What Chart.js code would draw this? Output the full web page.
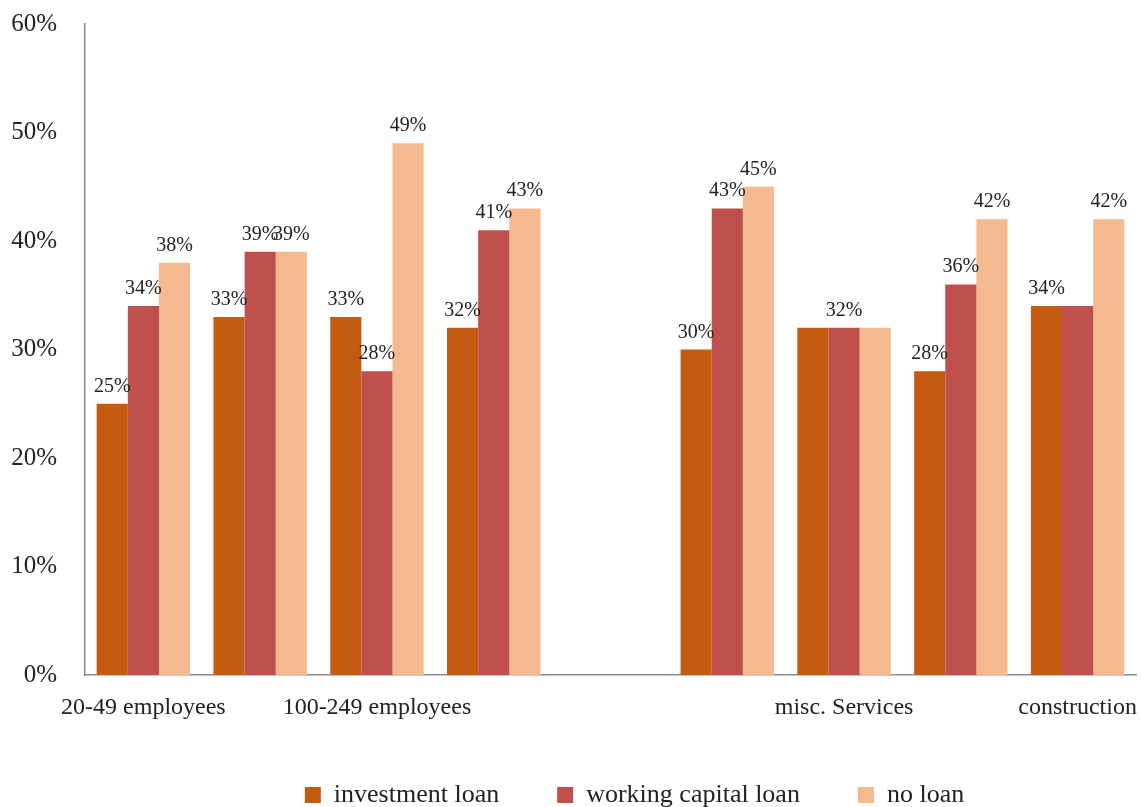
<!DOCTYPE html>
<html>
<head>
<meta charset="utf-8">
<script src="https://cdn.jsdelivr.net/npm/chart.js@4/dist/chart.umd.min.js"></script>
<style>
  html, body { margin: 0; padding: 0; background: #ffffff; }
  #wrap { width: 1141px; height: 807px; }
</style>
</head>
<body>
<div id="wrap"><canvas id="c" width="1141" height="807"></canvas></div>
<script>
// ---- data ----
const categories = ["20-49 employees", "50-99 employees", "100-249 employees", "250+ employees", "",
                    "manufacturing", "misc. Services", "trade", "construction"];
const seriesNames = ["investment loan", "working capital loan", "no loan"];
const investmentLoan = [25, 33, 33, 32, null, 30, 32, 28, 34];
const workingCapitalLoan = [34, 39, 28, 41, null, 43, 32, 36, 34];
const noLoan = [38, 39, 49, 43, null, 45, 32, 42, 42];
// data labels as shown in the picture (null = not shown)
const investmentLabels = ["25%", "33%", "33%", "32%", null, "30%", null, "28%", "34%"];
const workingCapitalLabels = ["34%", "39%", "28%", "41%", null, "43%", "32%", "36%", null];
const noLoanLabels = ["38%", "39%", "49%", "43%", null, "45%", null, "42%", "42%"];
const yTicks = [0, 10, 20, 30, 40, 50, 60];

const FONT = "'Liberation Serif', 'DejaVu Serif', serif";
const colors = ["#C55A11", "#C0504D", "#F4B98F"];
const labelSets = [investmentLabels, workingCapitalLabels, noLoanLabels];

const valueLabels = {
  id: 'valueLabels',
  afterDatasetsDraw(chart) {
    const ctx = chart.ctx;
    ctx.save();
    ctx.font = "20px " + FONT;
    ctx.fillStyle = "#222222";
    ctx.textAlign = "center";
    ctx.textBaseline = "alphabetic";
    chart.data.datasets.forEach((ds, di) => {
      const meta = chart.getDatasetMeta(di);
      meta.data.forEach((el, i) => {
        const t = labelSets[di][i];
        if (t == null || ds.data[i] == null) return;
        ctx.fillText(t, el.x, el.y - 12);
      });
    });
    ctx.restore();
  }
};

// nudge the legend block slightly right, as in the reference
const legendShift = {
  id: 'legendShift',
  afterLayout(chart) {
    if (chart.legend) { chart.legend.left += 24; chart.legend.right += 24; }
  }
};

new Chart(document.getElementById('c'), {
  type: 'bar',
  data: {
    labels: categories,
    datasets: [
      { label: seriesNames[0], data: investmentLoan, backgroundColor: colors[0] },
      { label: seriesNames[1], data: workingCapitalLoan, backgroundColor: colors[1] },
      { label: seriesNames[2], data: noLoan, backgroundColor: colors[2] }
    ]
  },
  options: {
    responsive: false,
    animation: false,
    devicePixelRatio: 1,
    datasets: { bar: { categoryPercentage: 0.8, barPercentage: 1.0 } },
    layout: { padding: { top: 0, right: 5, left: 0, bottom: 0 } },
    plugins: {
      legend: {
        position: 'bottom',
        fullSize: false,
        maxHeight: 83,
        labels: {
          font: { family: FONT, size: 26 },
          color: '#222222',
          boxWidth: 16,
          boxHeight: 16,
          padding: 58
        }
      },
      tooltip: { enabled: false }
    },
    scales: {
      x: {
        grid: { display: false, drawTicks: false },
        border: { display: true, color: '#8c8c8c', width: 1.5 },
        ticks: {
          autoSkip: false,
          maxRotation: 0,
          padding: 18,
          color: '#222222',
          font: { family: FONT, size: 24 },
          callback: function(v, i) { return i % 2 === 0 ? categories[i] : ''; }
        },
        afterFit(scale) { scale.height = 49; scale.paddingLeft = 0; scale.paddingRight = 0; }
      },
      y: {
        min: yTicks[0],
        max: yTicks[yTicks.length - 1],
        grid: { display: false, drawTicks: false },
        border: { display: true, color: '#8c8c8c', width: 1.5 },
        ticks: {
          stepSize: 10,
          padding: 28,
          color: '#222222',
          font: { family: FONT, size: 25 },
          callback: function(v) { return v + '%'; }
        },
        afterFit(scale) { scale.width = 85; scale.paddingTop = 24; scale.paddingBottom = 15; }
      }
    }
  },
  plugins: [valueLabels, legendShift]
});
</script>
</body>
</html>
